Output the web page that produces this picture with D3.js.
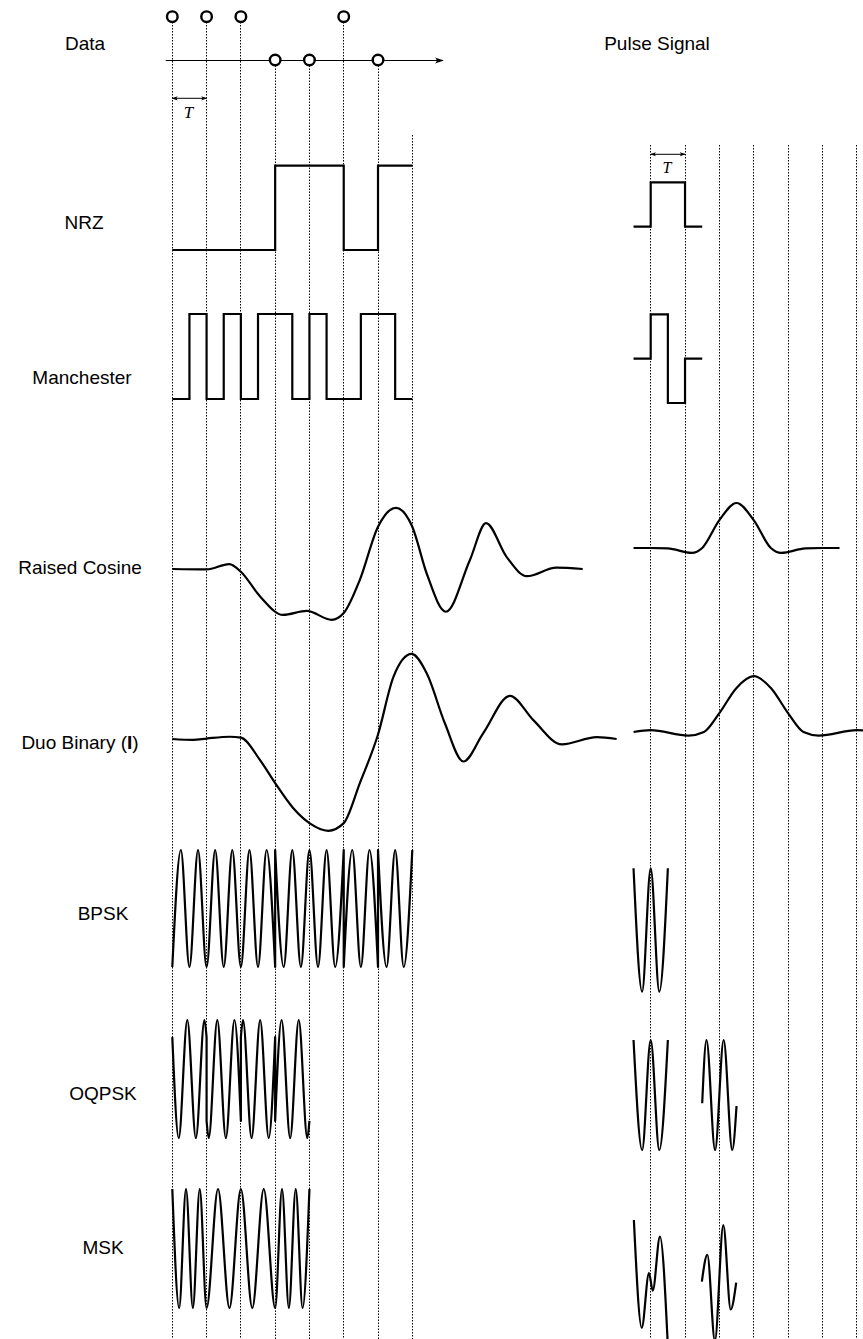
<!DOCTYPE html>
<html>
<head>
<meta charset="utf-8">
<script src="https://cdn.jsdelivr.net/npm/d3@7"></script>
<style>
  body { margin: 0; background: #fff; }
  svg { display: block; font-family: "Liberation Sans", Arial, sans-serif; }
</style>
</head>
<body>
<div id="chart"></div>
<script>
(function () {
  "use strict";

  // data symbols: 1 = circle above the axis, 0 = circle on the axis
  const DATA_LEVELS = [1, 1, 1, 0, 0, 1, 0];
  const NRZ_LEVELS = [-1, -1, -1, 1, 1, -1, 1];
  // manchester level per half bit
  const MANCHESTER_HALVES = [-1, 1, -1, 1, -1, 1, 1, -1, 1, -1, -1, 1, 1, -1];

  // pulses on the right, [t in T, value]
  const NRZ_PULSE = [[-0.5, 0], [0, 1], [1, 0], [1.5, 0]];
  const MANCHESTER_PULSE = [[-0.5, 0], [0, 1], [0.5, -1], [1, 0], [1.5, 0]];

  // raised cosine
  const RC_SIGNAL = [[0, 0], [1.0, -0.01], [1.66, 0.11], [2.0, -0.06], [2.56, -0.61], [3.23, -1.02],
    [3.92, -0.93], [4.65, -1.13], [5.0, -0.98], [5.47, -0.24], [6.0, 0.94], [6.52, 1.36], [7.0, 0.94],
    [7.42, -0.1], [7.98, -0.95], [8.68, 0.2], [9.15, 1.02], [9.75, 0.27], [10.34, -0.16], [11.2, 0.03], [11.97, 0]];
  const RC_PULSE = [[-0.5, 0], [0, 0], [0.5, -0.01], [1.2, -0.11], [1.5, 0], [2.0, 0.62], [2.5, 1.0],
    [3.0, 0.62], [3.5, 0], [3.8, -0.11], [4.5, -0.01], [5.0, 0], [5.5, 0]];

  // duo binary
  const DUO_SIGNAL = [[0, 0], [0.61, -0.02], [1.0, 0.01], [1.68, 0.05], [2.0, 0.03], [2.56, -0.47], [3.0, -0.98],
    [3.53, -1.54], [4.0, -1.87], [4.55, -2.04], [5.0, -1.87], [5.47, -0.98], [6.0, 0.1], [6.45, 1.38],
    [6.98, 1.89], [7.42, 1.46], [7.95, 0.35], [8.49, -0.5], [9.07, 0.13], [9.85, 0.96], [10.53, 0.42],
    [11.36, -0.12], [12.38, 0.04], [12.96, 0]];
  const DUO_PULSE = [[-0.5, 0], [0, 0.04], [1.1, -0.08], [1.55, 0], [2.0, 0.42], [2.5, 0.98], [3.0, 1.24],
    [3.5, 0.98], [4.0, 0.42], [4.45, 0], [4.9, -0.08], [6.0, 0.04], [6.6, 0]];

  // BPSK, one list per constant-phase stretch (extrema)
  const BPSK_SEGMENTS = [
    [[0, -1], [0.25, 1], [0.5, -1], [0.75, 1], [1, -1], [1.25, 1], [1.5, -1], [1.75, 1], [2, -1], [2.25, 1], [2.5, -1], [2.75, 1], [3, -1]],
    [[3, 1], [3.25, -1], [3.5, 1], [3.75, -1], [4, 1], [4.25, -1], [4.5, 1], [4.75, -1], [5, 1]],
    [[5, -1], [5.25, 1], [5.5, -1], [5.75, 1], [6, -1]],
    [[6, 1], [6.25, -1], [6.5, 1], [6.75, -1], [7, 1]]
  ];
  const BPSK_PULSE = [[-0.5, 1], [-0.25, -1], [0, 1], [0.25, -1], [0.5, 1]];

  // OQPSK
  const OQPSK_SEGMENTS = [
    [[0, 0.71], [0.1875, -1], [0.4375, 1], [0.6875, -1], [0.9375, 1], [1.0, 0.71]],
    [[1.0, -0.71], [1.0625, -1], [1.3125, 1], [1.5625, -1], [1.8125, 1], [2.0, -0.71]],
    [[2.0, 0.71], [2.0625, 1], [2.3125, -1], [2.5625, 1], [2.8125, -1], [3.0, 0.71]],
    [[3.0, -0.71], [3.1875, 1], [3.4375, -1], [3.6875, 1], [3.9375, -1], [4.0, -0.71]]
  ];
  const OQPSK_PULSES = [
    [[-0.5, 1], [-0.25, -1], [0, 1], [0.25, -1], [0.5, 1]],
    [[1.5, -0.15], [1.625, 1], [1.875, -1], [2.125, 1], [2.375, -1], [2.5, -0.2]]
  ];

  // MSK
  const MSK_SIGNAL = [[0, 1], [0.2, -1], [0.4, 1], [0.6, -1], [0.8, 1], [1.0, -1], [1.333, 1], [1.667, -1],
    [2.0, 1], [2.333, -1], [2.667, 1], [3.0, -1], [3.2, 1], [3.4, -1], [3.6, 1], [3.8, -1], [4.0, 1]];
  const MSK_PULSES = [
    [[-0.49, 1.07], [-0.26, -0.82], [-0.05, 0.14], [0.06, -0.17], [0.27, 0.78], [0.5, -1.15]],
    [[1.49, -0.01], [1.65, 0.46], [1.87, -1.05], [2.115, 0.98], [2.33, -0.5], [2.49, -0.03]]
  ];

  const width = 863;
  const height = 1339;

  const svg = d3.select("#chart").append("svg")
    .attr("width", width)
    .attr("height", height);

  // arrow heads
  const defs = svg.append("defs");
  function marker(id, size) {
    defs.append("marker")
      .attr("id", id)
      .attr("viewBox", "0 0 10 10")
      .attr("refX", 9).attr("refY", 5)
      .attr("markerWidth", size).attr("markerHeight", size)
      .attr("markerUnits", "userSpaceOnUse")
      .attr("orient", "auto-start-reverse")
      .append("path")
      .attr("d", "M0,1.5 Q4,5 0,8.5 L10,5 Z")
      .attr("fill", "#000");
  }
  marker("arrow-big", 9);
  marker("arrow-small", 6);

  // time scales (units of T)
  const xL = d3.scaleLinear().domain([0, 7]).range([172.3, 412.3]);
  const xR = d3.scaleLinear().domain([0, 6]).range([650.7, 856.7]);
  const snap = (v) => Math.floor(v) + 0.5;

  // grid lines
  const grid = svg.append("g")
    .attr("stroke", "#000")
    .attr("stroke-width", 1)
    .attr("stroke-dasharray", "1.5,1.5");
  d3.range(8).forEach((t) => {
    const top = t < DATA_LEVELS.length ? (DATA_LEVELS[t] ? 22 : 65.5) : 135;
    grid.append("line")
      .attr("x1", snap(xL(t))).attr("x2", snap(xL(t)))
      .attr("y1", top).attr("y2", height);
  });
  d3.range(7).forEach((t) => {
    grid.append("line")
      .attr("x1", snap(xR(t))).attr("x2", snap(xR(t)))
      .attr("y1", 145).attr("y2", height);
  });

  // data axis with circles
  const yData = d3.scaleLinear().domain([0, 1]).range([60, 16.7]);
  svg.append("line")
    .attr("x1", 165.7).attr("x2", 443)
    .attr("y1", yData(0) + 0.5).attr("y2", yData(0) + 0.5)
    .attr("stroke", "#000").attr("stroke-width", 1)
    .attr("marker-end", "url(#arrow-big)");
  svg.append("g").selectAll("circle")
    .data(DATA_LEVELS)
    .join("circle")
    .attr("cx", (d, i) => xL(i))
    .attr("cy", (d) => yData(d))
    .attr("r", 5.3)
    .attr("fill", "#fff")
    .attr("stroke", "#000")
    .attr("stroke-width", 2.4);

  // T markers
  function tMarker(x, y, fontSize) {
    svg.append("line")
      .attr("x1", x(0)).attr("x2", x(1))
      .attr("y1", y).attr("y2", y)
      .attr("stroke", "#000").attr("stroke-width", 1)
      .attr("marker-start", "url(#arrow-small)")
      .attr("marker-end", "url(#arrow-small)");
    svg.append("text")
      .attr("x", (x(0) + x(1)) / 2 - 1)
      .attr("y", y + 13.5)
      .attr("dy", "0.35em")
      .attr("text-anchor", "middle")
      .attr("font-family", "'Liberation Serif', 'DejaVu Serif', serif")
      .attr("font-style", "italic")
      .attr("font-size", fontSize)
      .text("T");
  }
  tMarker(xL, 98.3, 17);
  tMarker(xR, 154.3, 16);

  // waveform drawing
  function wavePath(segments, x, y, curve) {
    const line = d3.line()
      .x((d) => x(d[0]))
      .y((d) => y(d[1]))
      .curve(curve);
    return segments.map((s, i) => {
      const p = line(s);
      return i ? "L" + p.slice(1) : p;
    }).join("");
  }
  function drawWave(segments, x, cy, amp, curve) {
    const y = d3.scaleLinear().domain([-1, 1]).range([cy + amp, cy - amp]);
    svg.append("path")
      .attr("d", wavePath(segments, x, y, curve))
      .attr("fill", "none")
      .attr("stroke", "#000")
      .attr("stroke-width", 2.2)
      .attr("stroke-linejoin", curve === d3.curveStepAfter ? "miter" : "round");
  }

  const nrzSteps = NRZ_LEVELS.map((v, i) => [i, v]).concat([[NRZ_LEVELS.length, NRZ_LEVELS[NRZ_LEVELS.length - 1]]]);
  const manSteps = MANCHESTER_HALVES.map((v, i) => [i / 2, v])
    .concat([[MANCHESTER_HALVES.length / 2, MANCHESTER_HALVES[MANCHESTER_HALVES.length - 1]]]);

  drawWave([nrzSteps], xL, 207.8, 42.2, d3.curveStepAfter);
  drawWave([NRZ_PULSE], xR, 226.7, 44.4, d3.curveStepAfter);

  drawWave([manSteps], xL, 356.5, 42.5, d3.curveStepAfter);
  drawWave([MANCHESTER_PULSE], xR, 358.7, 44.3, d3.curveStepAfter);

  drawWave([RC_SIGNAL], xL, 569, 45, d3.curveMonotoneX);
  drawWave([RC_PULSE], xR, 548, 45, d3.curveMonotoneX);

  drawWave([DUO_SIGNAL], xL, 739, 45, d3.curveMonotoneX);
  drawWave([DUO_PULSE], xR, 732, 45, d3.curveMonotoneX);

  drawWave(BPSK_SEGMENTS, xL, 908.5, 58.5, d3.curveMonotoneX);
  drawWave([BPSK_PULSE], xR, 930, 61.7, d3.curveMonotoneX);

  drawWave(OQPSK_SEGMENTS, xL, 1079, 59, d3.curveMonotoneX);
  OQPSK_PULSES.forEach((p) => drawWave([p], xR, 1095, 55, d3.curveMonotoneX));

  drawWave([MSK_SIGNAL], xL, 1248.5, 59.5, d3.curveMonotoneX);
  MSK_PULSES.forEach((p) => drawWave([p], xR, 1281, 57, d3.curveMonotoneX));

  // row labels
  const labels = [
    { text: "Data", x: 85, y: 43.5 },
    { text: "Pulse Signal", x: 657, y: 43.5 },
    { text: "NRZ", x: 84, y: 222 },
    { text: "Manchester", x: 82, y: 377 },
    { text: "Raised Cosine", x: 80, y: 567 },
    { text: "Duo Binary", x: 80, y: 742, bold: "I" },
    { text: "BPSK", x: 103, y: 913 },
    { text: "OQPSK", x: 103, y: 1093 },
    { text: "MSK", x: 103, y: 1247 }
  ];
  labels.forEach((l) => {
    const t = svg.append("text")
      .attr("x", l.x)
      .attr("y", l.y)
      .attr("dy", "0.35em")
      .attr("text-anchor", "middle")
      .attr("font-size", 19)
      .attr("fill", "#000");
    if (l.bold) {
      t.append("tspan").text(l.text + " (");
      t.append("tspan").attr("font-weight", "bold").text(l.bold);
      t.append("tspan").text(")");
    } else {
      t.text(l.text);
    }
  });
})();
</script>
</body>
</html>
